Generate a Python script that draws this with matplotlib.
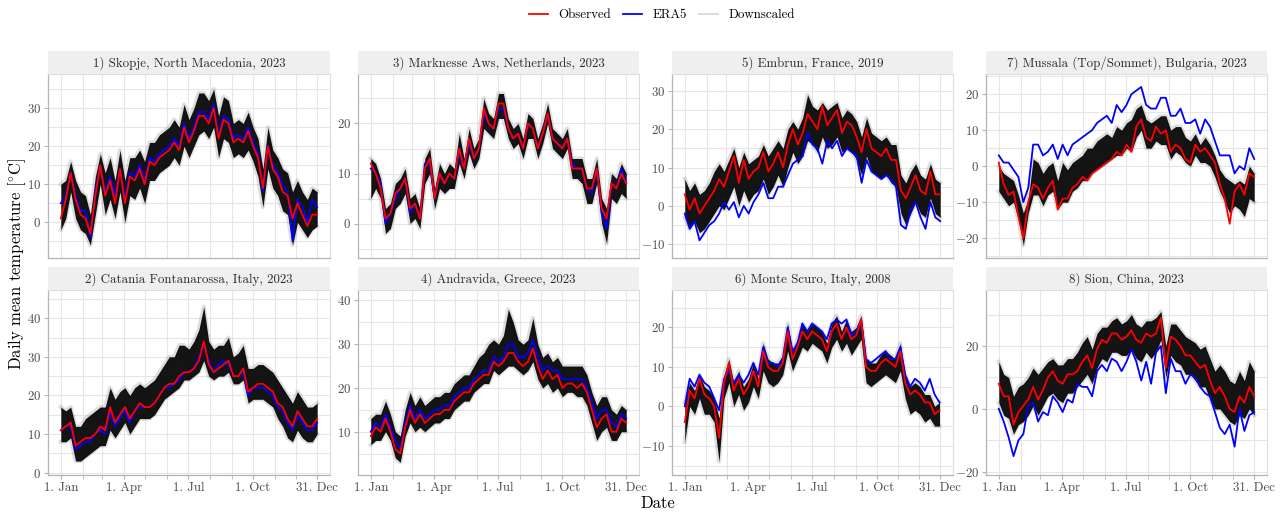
import datetime as dt
import matplotlib
matplotlib.use("Agg")
import matplotlib.pyplot as plt
from matplotlib.lines import Line2D
from matplotlib.ticker import MultipleLocator

plt.rcParams['font.family'] = ['cmr10', 'DejaVu Serif']
plt.rcParams['mathtext.fontset'] = 'cm'
plt.rcParams['axes.formatter.use_mathtext'] = True
plt.rcParams['axes.unicode_minus'] = False

# day of year of each (weekly) reading
days = list(range(0, 365, 7))

titles = ["1) Skopje, North Macedonia, 2023",
          "2) Catania Fontanarossa, Italy, 2023",
          "3) Marknesse Aws, Netherlands, 2023",
          "4) Andravida, Greece, 2023",
          "5) Embrun, France, 2019",
          "6) Monte Scuro, Italy, 2008",
          "7) Mussala (Top/Sommet), Bulgaria, 2023",
          "8) Sion, China, 2023"]
years = [2023, 2023, 2023, 2023, 2019, 2008, 2023, 2023]

# 1) Skopje
skopje_obs = [1,6,13,6,2,1,-3,7,15,7,11,5,14,5,12,11,14,10,16,15,17,18,19,21,19,25,21,24,28,28,26,30,22,27,26,21,22,21,24,20,17,9,20,14,12,8,7,1,5,2,-1,2,2]
skopje_era5 = [5,7,13,7,3,3,-4,8,15,8,12,7,14,6,13,12,15,11,17,16,18,19,20,22,20,26,22,25,29,29,27,31,23,28,27,22,23,22,25,21,18,8,20,15,13,10,8,-5,6,4,0,6,4]
skopje_lo = [-2,1,8,1,-2,-3,-6,2,10,2,6,1,8,0,7,6,9,5,11,11,13,14,15,17,15,20,17,20,23,24,22,25,17,22,21,17,18,17,19,16,12,4,14,9,7,3,2,-6,0,-2,-4,-2,-1]
skopje_hi = [10,11,16,11,8,7,2,12,18,13,17,11,19,11,17,17,19,16,21,21,23,24,25,27,25,31,27,30,34,34,32,35,28,33,32,26,27,26,29,25,22,14,25,19,17,14,13,8,11,8,6,9,8]

# 2) Catania
catania_obs = [11,12,13,7,8,9,9,10,12,11,17,13,15,17,14,16,18,17,17,18,20,22,23,23,25,26,26,27,29,34,28,26,27,28,29,25,25,27,21,22,23,23,22,21,18,17,14,12,16,14,12,12,14]
catania_era5 = [11,12,12,6,7,8,8,10,11,10,16,12,14,16,13,16,17,17,17,18,20,22,22,23,24,26,26,27,30,33,29,26,28,29,28,25,25,26,20,22,22,22,21,20,17,16,13,11,15,13,11,11,13]
catania_lo = [8,8,9,3,3,4,5,6,7,7,11,9,11,13,10,12,14,14,14,15,17,19,20,21,22,24,24,25,26,29,25,24,25,25,26,23,23,24,18,19,19,19,18,17,14,12,9,8,11,9,8,8,10]
catania_hi = [17,16,17,12,12,14,15,16,17,17,22,19,21,22,20,22,23,22,23,24,26,28,30,30,33,33,32,34,37,43,34,32,33,33,35,30,31,33,27,27,28,28,27,26,24,22,20,18,21,19,17,17,18]

# 3) Marknesse
marknesse_obs = [12,10,7,1,2,6,7,9,3,4,1,11,13,5,10,8,10,9,15,11,17,13,15,23,20,19,24,24,19,17,18,15,20,19,15,18,22,17,16,15,17,11,11,11,7,7,11,3,1,8,7,10,8]
marknesse_era5 = [11,10,8,0,2,5,7,9,2,4,1,12,12,5,10,8,10,9,14,11,16,13,15,22,20,19,23,23,19,17,18,15,20,19,15,18,22,17,16,15,17,12,11,11,7,6,11,2,-1,8,7,11,8]
marknesse_lo = [5,7,5,-2,-1,3,4,6,0,1,-1,8,10,3,7,6,7,7,12,9,14,11,13,19,18,17,21,21,17,15,16,13,17,17,13,16,20,15,14,13,15,9,9,8,4,4,8,0,-4,5,4,6,5]
marknesse_hi = [13,12,9,3,4,8,9,11,5,6,3,13,15,7,12,10,12,11,18,13,19,15,17,25,22,21,26,26,21,19,20,17,22,21,17,20,24,19,18,17,19,13,13,13,9,9,13,5,3,10,9,12,10]

# 4) Andravida
andravida_obs = [9,11,10,13,10,6,5,11,15,12,14,12,13,14,14,15,15,17,18,19,19,21,22,23,23,26,25,26,28,28,26,25,26,29,25,22,24,22,23,20,21,21,20,21,19,15,11,13,14,10,10,13,12]
andravida_era5 = [10,12,11,14,11,8,6,12,16,13,15,13,14,15,15,16,16,18,19,20,20,22,23,24,24,27,26,27,30,30,27,27,28,31,27,24,25,24,24,22,22,22,22,22,20,17,13,15,15,12,11,14,13]
andravida_lo = [7,8,8,10,8,4,3,9,12,10,11,10,11,12,12,13,13,15,16,17,17,19,20,21,21,24,23,24,25,25,24,23,24,26,22,20,21,19,20,18,19,19,18,18,16,12,8,10,11,8,8,10,10]
andravida_hi = [13,14,14,17,14,10,9,15,19,16,18,16,17,18,18,19,19,21,22,23,23,25,27,28,30,31,30,32,38,35,31,30,31,36,30,27,28,26,27,25,25,25,25,25,23,19,16,18,18,15,14,16,15]

# 5) Embrun
embrun_obs = [3,-1,2,-2,0,2,4,7,5,9,13,6,12,7,9,10,14,9,11,14,10,16,20,16,19,24,22,20,26,21,23,25,19,22,21,18,14,20,15,14,13,15,12,12,4,2,5,8,4,3,9,3,3]
embrun_era5 = [-2,-6,-4,-9,-7,-5,-4,-2,1,-1,1,-3,0,-2,1,3,6,2,2,5,5,8,11,12,13,19,16,15,11,17,15,17,13,15,14,13,6,12,9,8,7,8,7,5,-5,-6,-1,1,-3,-6,1,-3,-4]
embrun_lo = [-3,-6,-4,-7,-6,-4,-2,0,-1,2,5,0,4,1,3,4,7,3,5,8,5,10,14,11,13,17,16,14,18,15,16,18,14,15,14,12,8,13,9,8,7,8,6,5,-2,-5,-2,1,-2,-3,2,-2,-3]
embrun_hi = [7,4,6,3,4,6,9,11,9,12,15,10,14,11,12,13,16,13,15,17,15,20,22,20,23,29,26,25,27,25,26,27,23,25,24,22,18,23,19,18,17,18,16,16,8,6,9,11,8,7,11,7,6]

# 6) Monte Scuro
scuro_obs = [-4,4,2,7,3,2,0,-8,6,11,4,7,3,5,9,5,14,10,9,9,11,19,12,15,19,17,19,18,17,14,19,21,17,20,17,18,22,10,9,9,11,12,11,10,14,6,3,4,3,1,1,-2,-1]
scuro_era5 = [0,7,5,8,6,5,2,-1,7,9,6,8,6,8,11,8,15,11,11,10,12,20,14,16,21,19,21,20,19,17,21,22,21,22,18,19,22,12,11,12,13,14,12,12,15,8,5,7,6,4,7,3,1]
scuro_lo = [-9,0,-2,2,-2,-2,-4,-14,2,6,0,3,-1,1,5,2,9,6,5,6,8,14,9,12,15,14,16,15,14,11,15,17,14,16,13,15,17,6,5,6,7,8,7,6,9,2,-2,-1,-2,-4,-3,-5,-5]
scuro_hi = [1,6,4,8,5,4,2,-3,8,12,6,9,5,7,11,7,16,12,11,11,13,21,14,17,21,19,21,20,19,16,21,23,19,22,19,20,23,12,11,11,13,14,13,12,16,8,5,6,5,3,3,0,1]

# 7) Mussala
mussala_obs = [1,-5,-8,-7,-14,-20,-10,-5,-6,-9,-6,-4,-12,-9,-9,-6,-5,-3,-4,-2,-1,0,1,2,4,3,6,4,11,13,8,7,11,9,10,4,6,5,2,1,6,4,5,3,1,-5,-9,-16,-7,-5,-8,-2,-3]
mussala_era5 = [3,1,1,-1,-3,-10,-6,6,6,3,4,6,2,6,3,6,7,8,9,10,12,13,14,12,17,15,17,20,21,22,17,16,16,19,19,14,14,16,12,12,13,9,13,11,7,3,3,3,-2,0,-1,5,2]
mussala_lo = [-7,-9,-11,-10,-15,-22,-13,-8,-8,-11,-8,-7,-12,-10,-10,-7,-6,-4,-4,-2,-1,0,1,2,3,3,5,4,8,10,5,5,7,6,6,2,4,3,1,0,3,1,1,0,-3,-7,-10,-13,-11,-12,-14,-9,-10]
mussala_hi = [0,-2,-3,-4,-8,-13,-9,2,1,-2,0,1,-4,1,-1,1,2,3,5,5,7,8,9,8,11,10,12,13,16,17,13,12,13,14,14,10,11,11,8,7,9,6,8,6,3,-1,-3,-4,-5,-4,-5,0,-2]

# 8) Sion
sion_obs = [8,4,4,-5,-1,1,3,7,3,6,10,12,9,8,11,11,12,15,17,13,19,22,21,24,24,22,23,25,22,21,24,23,24,29,13,23,22,20,17,17,15,13,14,9,5,7,4,0,-1,4,2,7,4]
sion_era5 = [0,-4,-9,-15,-10,-8,1,2,-4,-1,-2,4,2,-1,3,2,8,7,7,4,12,14,12,16,15,12,15,19,15,9,15,8,18,20,5,16,12,12,8,11,10,7,5,4,-1,-6,-8,-5,-12,0,-7,-2,-1]
sion_lo = [2,-2,-3,-8,-5,-4,-2,1,-2,1,4,5,3,2,5,5,7,9,11,8,13,16,15,18,18,17,17,19,16,15,18,16,18,22,10,17,15,14,11,11,9,7,7,3,0,0,-2,-4,-5,-2,-3,0,-2]
sion_hi = [15,11,10,4,7,8,10,13,11,13,15,16,14,14,16,16,18,21,23,19,24,26,26,28,29,27,28,30,27,26,28,28,29,31,20,27,27,25,23,22,21,19,20,16,12,14,12,9,8,12,9,15,12]

observed = [skopje_obs, catania_obs, marknesse_obs, andravida_obs, embrun_obs, scuro_obs, mussala_obs, sion_obs]
era5 = [skopje_era5, catania_era5, marknesse_era5, andravida_era5, embrun_era5, scuro_era5, mussala_era5, sion_era5]
down_lo = [skopje_lo, catania_lo, marknesse_lo, andravida_lo, embrun_lo, scuro_lo, mussala_lo, sion_lo]
down_hi = [skopje_hi, catania_hi, marknesse_hi, andravida_hi, embrun_hi, scuro_hi, mussala_hi, sion_hi]

ylims = [(-9.4, 39.0), (-0.6, 47.3), (-6.9, 29.9), (0.1, 42.4),
         (-13.6, 34.4), (-17.4, 29.5), (-25.5, 25.6), (-21.0, 37.8)]
ysteps = [10, 10, 10, 10, 10, 10, 10, 20]

W, H = 1285, 512
col_x = [(48, 330), (358, 639), (672, 953), (986, 1267)]
row_y = [(74, 258), (290, 475)]  # plot area top/bottom in pixels
strip_h = 23

fig = plt.figure(figsize=(W / 100, H / 100), dpi=100)

grid_col = '#e6e6e6'
tick_col = '#4d4d4d'

for k in range(8):
    col, row = k // 2, k % 2
    x0, x1 = col_x[col]
    y0, y1 = row_y[row]
    ax = fig.add_axes([x0 / W, 1 - y1 / H, (x1 - x0) / W, (y1 - y0) / H])
    st = fig.add_axes([x0 / W, 1 - y0 / H, (x1 - x0) / W, strip_h / H])
    st.set_facecolor('#efefef')
    st.set_xticks([]); st.set_yticks([])
    for s in st.spines.values():
        s.set_visible(False)
    st.text(0.5, 0.48, titles[k], ha='center', va='center', fontsize=9.3, color='#2b2b2b',
            transform=st.transAxes)

    yr = years[k]
    jan1 = dt.date(yr, 1, 1)
    doy = lambda m, d: (dt.date(yr, m, d) - jan1).days
    n_days = doy(12, 31)

    # downscaled ensemble: dense black core with a soft grey halo
    ax.plot(days, down_lo[k], color='#808080', lw=3, alpha=0.25, zorder=2)
    ax.plot(days, down_hi[k], color='#808080', lw=3, alpha=0.25, zorder=2)
    ax.fill_between(days, down_lo[k], down_hi[k], color='black', lw=0, alpha=0.92, zorder=2)
    ax.plot(days, era5[k], color='#0000ff', lw=1.3, zorder=3)
    ax.plot(days, observed[k], color='#ff0000', lw=1.3, zorder=4)

    pad = n_days * 0.05
    ax.set_xlim(-pad, n_days + pad)
    ax.set_ylim(*ylims[k])

    major = [doy(1, 1), doy(4, 1), doy(7, 1), doy(10, 1), doy(12, 31)]
    minor = [doy(m, 1) for m in (2, 3, 5, 6, 8, 9, 11, 12)]
    ax.set_xticks(major)
    ax.set_xticks(minor, minor=True)
    ax.yaxis.set_major_locator(MultipleLocator(ysteps[k]))
    ax.yaxis.set_minor_locator(MultipleLocator(ysteps[k] / 2))
    ax.grid(which='both', color=grid_col, lw=0.8, zorder=0)
    ax.set_axisbelow(True)

    if row == 1:
        ax.set_xticklabels(['1. Jan', '1. Apr', '1. Jul', '1. Oct', '31. Dec'])
        ax.tick_params(axis='x', which='both', length=3, color='#b3b3b3',
                       labelsize=9.3, labelcolor=tick_col, pad=2)
    else:
        ax.tick_params(axis='x', which='both', length=0, labelbottom=False)
    ax.tick_params(axis='y', which='major', length=3, color='#b3b3b3',
                   labelsize=9.3, labelcolor=tick_col, pad=2)
    ax.tick_params(axis='y', which='minor', length=0)

    for side in ('left', 'bottom'):
        ax.spines[side].set_color('#b3b3b3')
        ax.spines[side].set_linewidth(0.9)
    for side in ('right', 'top'):
        ax.spines[side].set_color('#dddddd')
        ax.spines[side].set_linewidth(0.8)

fig.text(0.013, 0.484, 'Daily mean temperature [$^{\\circ}$C]', rotation=90,
         ha='center', va='center', fontsize=12)
fig.text(0.512, 0.016, 'Date', ha='center', va='center', fontsize=12)

handles = [Line2D([], [], color='#ff0000', lw=1.3),
           Line2D([], [], color='#0000ff', lw=1.3),
           Line2D([], [], color='#d9d9d9', lw=1.3)]
fig.legend(handles, ['Observed', 'ERA5', 'Downscaled'], loc='center',
           bbox_to_anchor=(0.515, 0.97), ncol=3, frameon=False, fontsize=9.3,
           handlelength=1.5, handletextpad=0.8, columnspacing=0.9)

fig.savefig('out.png', dpi=100)
